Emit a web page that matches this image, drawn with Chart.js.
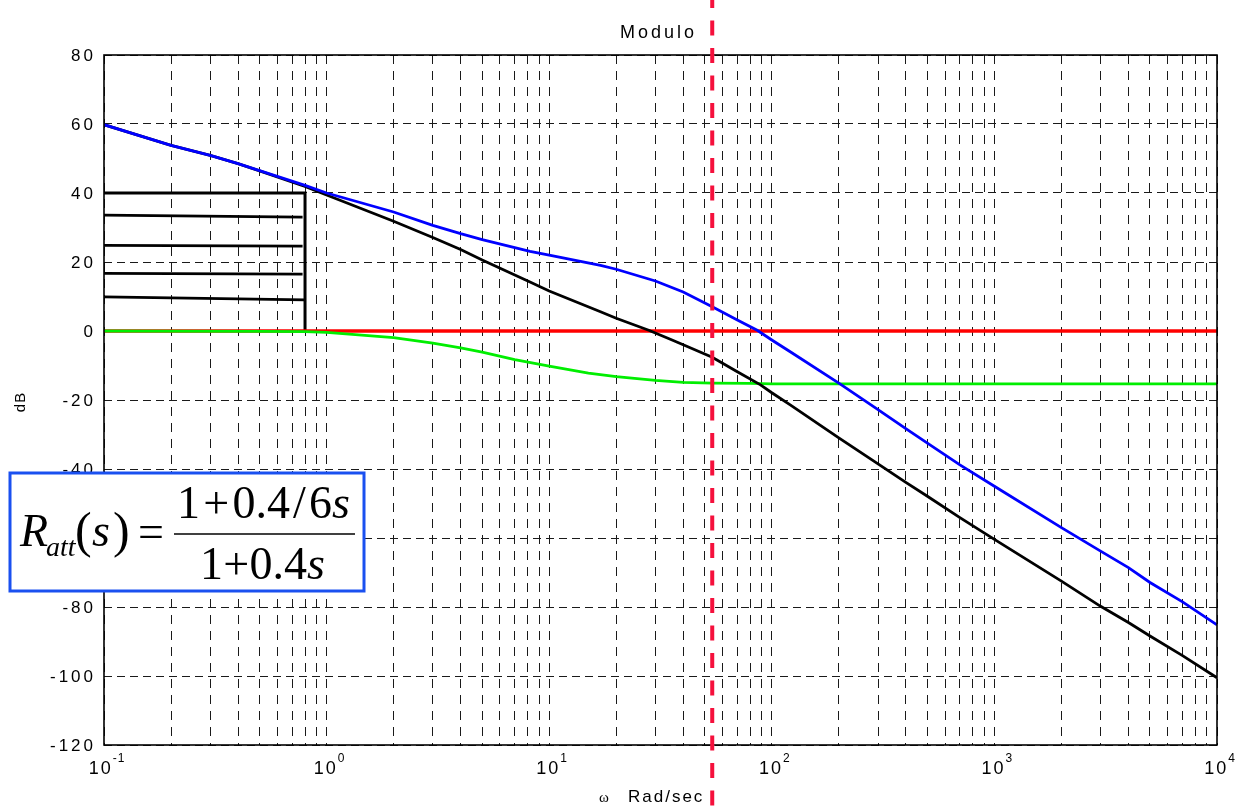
<!DOCTYPE html>
<html>
<head>
<meta charset="utf-8">
<script src="https://cdn.jsdelivr.net/npm/chart.js@4"></script>
<style>
  html, body { margin: 0; padding: 0; background: #fff; }
</style>
</head>
<body>
<canvas id="myChart" width="1247" height="810"></canvas>
<script>
// pulsazioni (rad/s) e moduli (dB)
var w_blue = [0.1, 0.2, 0.3, 0.4, 0.5, 0.8, 1, 2, 3, 4, 5, 8.2, 10, 17, 20, 30, 40, 54, 70, 86, 100, 121, 200, 300, 400, 500, 700, 1000, 2000, 3000, 4000, 5000, 7000, 10000];
var db_blue = [59.8, 53.8, 50.9, 48.5, 46.5, 42.2, 40.0, 34.5, 30.6, 28.2, 26.5, 23.1, 22.0, 19.0, 17.9, 14.5, 11.3, 7.0, 3.2, 0.2, -2.6, -6.0, -15.1, -22.8, -28.3, -32.5, -38.8, -45.0, -57.0, -63.8, -68.6, -72.9, -78.5, -85.2];

var w_black = [0.1, 0.2, 0.3, 0.4, 0.5, 0.8, 1, 2, 3, 4, 5, 8.2, 10, 17, 20, 28, 35, 40, 54, 70, 89, 100, 121, 200, 300, 400, 500, 700, 1000, 2000, 3000, 4000, 5000, 7000, 10000];
var db_black = [59.8, 53.8, 50.9, 48.5, 46.4, 41.9, 39.4, 31.8, 27.1, 23.6, 20.6, 14.2, 11.6, 5.6, 3.7, 0.2, -2.4, -4.0, -7.6, -11.8, -15.6, -17.9, -21.4, -31.0, -38.5, -43.9, -47.9, -54.1, -60.4, -72.5, -79.8, -84.5, -88.4, -94.1, -100.5];

// rete attenuatrice
var w_green = [0.1, 0.5, 0.8, 1, 2, 3, 4, 5, 7, 10, 15, 20, 30, 40, 54, 80, 100, 10000];
var db_green = [0, -0.1, -0.2, -0.4, -1.9, -3.5, -4.9, -6.1, -8.3, -10.2, -12.2, -13.2, -14.3, -14.9, -15.1, -15.2, -15.3, -15.3];

var w_red = [0.1, 10000];
var db_red = [0, 0];

// tratteggio a sinistra
var w_bracket = [0.1, 0.8, 0.8];
var db_bracket = [40, 40, 0];
var hatch_w0 = [0.1, 0.1, 0.1, 0.1];
var hatch_w1 = [0.78, 0.78, 0.78, 0.8];
var hatch_db0 = [33.6, 24.8, 16.7, 9.9];
var hatch_db1 = [33.0, 24.6, 16.5, 9.0];

var omega_c = 54; // linea verticale tratteggiata

var xDecades = [0.1, 1, 10, 100, 1000, 10000];
var yTicks = [-120, -100, -80, -60, -40, -20, 0, 20, 40, 60, 80];

var title = 'Modulo';
var xTitle = 'Rad/sec';
var yTitle = 'dB';

function pts(ws, dbs) {
  return ws.map(function (w, i) { return { x: w, y: dbs[i] }; });
}

var xGrid = [];
for (var i = 0; i < xDecades.length - 1; i++) {
  for (var k = 1; k <= 9; k++) xGrid.push(xDecades[i] * k);
}
xGrid.push(xDecades[xDecades.length - 1]);

var dataset = [
  { data: pts(w_blue, db_blue), borderColor: '#0000ff', borderWidth: 2.8, order: 1 },
  { data: pts(w_black, db_black), borderColor: '#000000', borderWidth: 2.8, order: 2 },
  { data: pts(w_green, db_green), borderColor: '#00ee00', borderWidth: 2.8, order: 3 },
  { data: pts(w_red, db_red), borderColor: '#ff0000', borderWidth: 3.4, order: 4 },
  { data: pts(w_bracket, db_bracket), borderColor: '#000000', borderWidth: 3, order: 5 }
];
for (var h = 0; h < hatch_w0.length; h++) {
  dataset.push({
    data: [{ x: hatch_w0[h], y: hatch_db0[h] }, { x: hatch_w1[h], y: hatch_db1[h] }],
    borderColor: '#000000', borderWidth: 2.8, order: 5
  });
}
dataset.forEach(function (d) { d.showLine = true; d.pointRadius = 0; d.fill = false; });

var SANS = '"Liberation Sans", Arial, sans-serif';
var SERIF = '"Liberation Serif", "Times New Roman", serif';

// pezzi di testo con spaziatura distribuita fino a una larghezza data
function drawPieces(c, pieces, x0, base, targetW) {
  var total = 0, gaps = 0;
  pieces.forEach(function (p) {
    c.font = p.font;
    p.w = c.measureText(p.t).width;
    total += p.w;
    if (!p.tight) gaps++;
  });
  gaps--;
  var g = gaps > 0 ? (targetW - total) / gaps : 0;
  var x = x0;
  pieces.forEach(function (p, idx) {
    if (idx > 0 && !p.tight) x += g;
    c.font = p.font;
    c.fillText(p.t, x, base);
    x += p.w;
  });
}

var decor = {
  id: 'decor',
  afterDatasetsDraw: function (chart) {
    var c = chart.ctx, a = chart.chartArea;
    c.save();
    c.strokeStyle = '#000';
    c.lineWidth = 1.6;
    c.strokeRect(a.left, a.top, a.right - a.left, a.bottom - a.top);
    c.restore();
  },
  afterDraw: function (chart) {
    var c = chart.ctx, a = chart.chartArea;
    var xs = chart.scales.x, ys = chart.scales.y;
    c.save();
    c.fillStyle = '#000';

    // etichette asse y
    c.font = '17px ' + SANS;
    c.letterSpacing = '3px';
    c.textAlign = 'right';
    c.textBaseline = 'middle';
    yTicks.forEach(function (v) {
      c.fillText(String(v), a.left - 8, ys.getPixelForValue(v) + 1);
    });

    // etichette asse x: 10^n
    c.textAlign = 'left';
    c.textBaseline = 'alphabetic';
    xDecades.forEach(function (d) {
      var e = String(Math.round(Math.log10(d)));
      var px = xs.getPixelForValue(d);
      c.font = '18px ' + SANS;
      c.letterSpacing = '2px';
      var w10 = c.measureText('10').width;
      c.font = '12px ' + SANS;
      c.letterSpacing = '1px';
      var we = c.measureText(e).width;
      var x0 = px - (w10 + we) / 2 + 3;
      c.font = '18px ' + SANS;
      c.letterSpacing = '2px';
      c.fillText('10', x0, 774);
      c.font = '12px ' + SANS;
      c.letterSpacing = '1px';
      c.fillText(e, x0 + w10, 762);
    });

    // titoli
    c.font = '18px ' + SANS;
    c.letterSpacing = '3px';
    c.textAlign = 'center';
    c.fillText(title, (a.left + a.right) / 2 - 2, 38);
    c.textAlign = 'left';
    c.font = '17px ' + SANS;
    c.letterSpacing = '2px';
    c.fillText(xTitle, 628, 802);
    c.letterSpacing = '0px';
    c.font = '15px ' + SERIF;
    c.fillText('\u03c9', 599, 802);
    c.save();
    c.translate(25, 402);
    c.rotate(-Math.PI / 2);
    c.textAlign = 'center';
    c.font = '15px ' + SANS;
    c.letterSpacing = '1px';
    c.fillText(yTitle, 0, 0);
    c.restore();

    // linea verticale tratteggiata rossa
    var xc = xs.getPixelForValue(omega_c);
    c.strokeStyle = '#f5103c';
    c.lineWidth = 4;
    c.setLineDash([15, 12.5]);
    c.beginPath();
    c.moveTo(xc, -7);
    c.lineTo(xc, chart.height);
    c.stroke();
    c.setLineDash([]);

    // riquadro con la funzione di trasferimento
    c.fillStyle = '#fff';
    c.fillRect(10, 473, 354, 118);
    c.strokeStyle = '#1a50f0';
    c.lineWidth = 3;
    c.strokeRect(10, 473, 354, 118);
    c.fillStyle = '#000';
    c.letterSpacing = '0px';
    c.textAlign = 'left';
    var F = '46px ' + SERIF, FI = 'italic 46px ' + SERIF;
    c.font = FI; c.fillText('R', 20, 546);
    c.font = 'italic 28px ' + SERIF; c.fillText('att', 46, 556);
    c.font = '50px ' + SERIF; c.fillText('(', 75, 547);
    c.font = FI; c.fillText('s', 92, 546);
    c.font = '50px ' + SERIF; c.fillText(')', 113, 547);
    c.font = F; c.fillText('=', 138, 547);
    c.lineWidth = 1.6;
    c.strokeStyle = '#000';
    c.beginPath();
    c.moveTo(174, 534);
    c.lineTo(355, 534);
    c.stroke();
    drawPieces(c, [
      { t: '1', font: F }, { t: '+', font: F }, { t: '0.4', font: F },
      { t: '/', font: F }, { t: '6', font: F }, { t: 's', font: FI, tight: true }
    ], 177, 518, 173);
    drawPieces(c, [
      { t: '1', font: F }, { t: '+', font: F }, { t: '0.4', font: F },
      { t: 's', font: FI, tight: true }
    ], 200, 579, 125);
    c.restore();
  }
};

var ctx = document.getElementById('myChart').getContext('2d');
var myChart = new Chart(ctx, {
  type: 'scatter',
  data: { datasets: dataset },
  options: {
    responsive: false,
    animation: false,
    layout: { padding: { left: 104, top: 55, right: 30, bottom: 65 } },
    plugins: { legend: { display: false }, tooltip: { enabled: false } },
    elements: { line: { tension: 0 } },
    scales: {
      x: {
        type: 'logarithmic',
        min: 0.1,
        max: 10000,
        afterBuildTicks: function (s) { s.ticks = xGrid.map(function (v) { return { value: v }; }); },
        ticks: { display: false },
        grid: { color: '#1a1a1a', lineWidth: 1, drawTicks: false },
        border: { display: false, dash: [9, 7] }
      },
      y: {
        min: -120,
        max: 80,
        afterBuildTicks: function (s) { s.ticks = yTicks.map(function (v) { return { value: v }; }); },
        ticks: { display: false },
        grid: { color: '#1a1a1a', lineWidth: 1, drawTicks: false },
        border: { display: false, dash: [8, 5] }
      }
    }
  },
  plugins: [decor]
});
</script>
</body>
</html>
